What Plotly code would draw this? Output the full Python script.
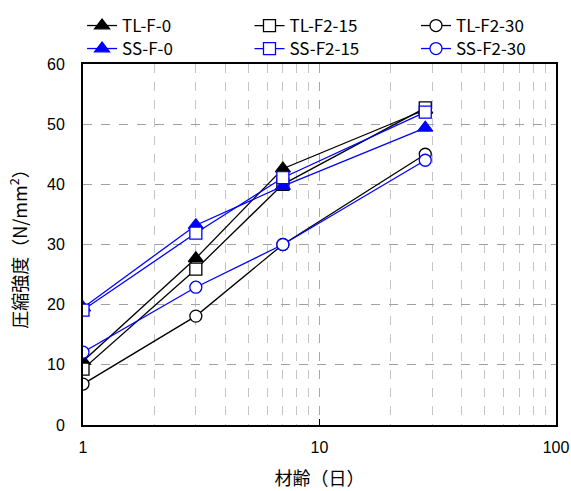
import plotly.graph_objects as go

ages = [1, 3, 7, 28]
names = ["TL-F-0", "TL-F2-15", "TL-F2-30", "SS-F-0", "SS-F2-15", "SS-F2-30"]
tl_f_0 = [10.6, 27.7, 42.6, 52.4]
tl_f2_15 = [9.3, 25.9, 40.0, 52.7]
tl_f2_30 = [6.8, 18.1, 30.0, 45.0]
ss_f_0 = [19.5, 33.2, 39.7, 49.4]
ss_f2_15 = [19.1, 31.9, 41.1, 52.0]
ss_f2_30 = [12.1, 22.9, 30.0, 44.0]
values = [tl_f_0, tl_f2_15, tl_f2_30, ss_f_0, ss_f2_15, ss_f2_30]

colors = ["black", "black", "black", "blue", "blue", "blue"]
symbols = ["triangle-up", "square-open", "circle-open", "triangle-up", "square-open", "circle-open"]

# legend grid: 3 columns x 2 rows
leg_x = [-0.002, 0.352, 0.704]
leg_y = [1.1053, 1.0416]

font = "Noto Sans CJK JP, Arial"
numfont = "Liberation Sans, Arial"

fig = go.Figure()
legends = {}
for i, (n, v, c, s) in enumerate(zip(names, values, colors, symbols)):
    filled = not s.endswith("open")
    lname = "legend" if i == 0 else f"legend{i + 1}"
    fig.add_trace(go.Scatter(
        x=ages, y=v, name=n, mode="lines+markers", legend=lname,
        line=dict(color=c, width=1.3),
        marker=dict(symbol=s.replace("-open", ""), size=13 if filled else 12,
                    color=c if filled else "white",
                    line=dict(color=c, width=1.3)),
    ))
    legends[lname] = dict(x=leg_x[i % 3], y=leg_y[i // 3], xanchor="left", yanchor="middle",
                          orientation="h", itemwidth=30, bgcolor="rgba(0,0,0,0)",
                          font=dict(size=17, family=font, color="black"))

fig.update_layout(
    width=571, height=491,
    margin=dict(l=83, r=15, t=64, b=66, autoexpand=False),
    paper_bgcolor="white", plot_bgcolor="white",
    font=dict(family=font, size=18, color="black"),
    showlegend=True,
    **legends,
    xaxis=dict(type="log", range=[0, 2], showline=True, linecolor="black", linewidth=2,
               mirror=True, ticks="inside", ticklen=6, tickcolor="black",
               tickvals=[1, 10, 100], ticktext=["1", "10", "100"],
               tickfont=dict(family=numfont, size=16), ticklabeloverflow="allow",
               showgrid=True, gridcolor="#a8a8a8", griddash="dash", gridwidth=1,
               minor=dict(tickvals=[2, 3, 4, 5, 6, 7, 8, 9, 20, 30, 40, 50, 60, 70, 80, 90],
                          showgrid=True, gridcolor="#c4c4c4", griddash="dash", gridwidth=1,
                          ticks=""),
               ticklabelstandoff=7, automargin=False,
               title=dict(text="材齢（日）", standoff=17, font=dict(size=18)), zeroline=False),
    yaxis=dict(range=[0, 60], dtick=10, showline=True, linecolor="black", linewidth=2,
               mirror=True, ticks="", showgrid=True, gridcolor="#a0a0a0", griddash="dash",
               tickfont=dict(family=numfont, size=16),
               ticklabelstandoff=13, automargin=False,
               title=dict(text="圧縮強度（N/mm<sup>2</sup>）", standoff=15, font=dict(size=18)),
               zeroline=False),
)
fig.write_html("out.html", config={"displayModeBar": False},
               post_script="document.body.style.margin='0';")
